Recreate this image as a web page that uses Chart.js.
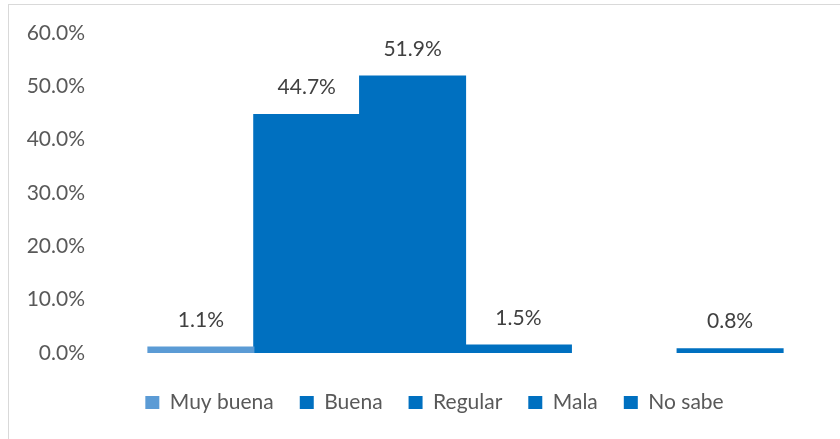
<!DOCTYPE html>
<html lang="es">
  <head>
    <meta charset="UTF-8" />
    <script src="https://cdn.jsdelivr.net/npm/chart.js"></script>
    <title>Opinión</title>
    <style>
      body {
        margin: 0;
        background: #fff;
        overflow: hidden;
      }
      #frame {
        position: absolute;
        left: 8px;
        top: 4px;
        width: 900px;
        height: 500px;
        border: 1px solid #d9d9d9;
      }
      #chart {
        position: absolute;
        left: 0;
        top: 0;
      }
    </style>
  </head>
  <body>
    <div id="frame">
      <canvas id="chart" width="850" height="434"></canvas>
    </div>
    <script>
      // one empty slot sits between Mala and No sabe in the original
      const seriesNames = ['Muy buena', 'Buena', 'Regular', 'Mala', '', 'No sabe'];
      const seriesValues = [0.011, 0.447, 0.519, 0.015, null, 0.008];
      const seriesColors = ['#5b9bd5', '#0070c0', '#0070c0', '#0070c0', '#0070c0', '#0070c0'];
      const yTicks = [0, 0.1, 0.2, 0.3, 0.4, 0.5, 0.6];

      const font = "Lato, 'Open Sans', sans-serif";

      const datasets = seriesNames.map((name, i) => ({
        label: name,
        data: [seriesValues[i]],
        backgroundColor: seriesColors[i],
        borderWidth: 0,
        inflateAmount: 0.6, // hides the hairline seams between touching bars
        barPercentage: 1,
        categoryPercentage: 0.857
      }));

      // value labels above each bar
      const valueLabels = {
        id: 'valueLabels',
        afterDatasetsDraw(chart) {
          const ctx = chart.ctx;
          ctx.save();
          ctx.font = '21px ' + font;
          ctx.fillStyle = '#404040';
          ctx.textAlign = 'center';
          ctx.textBaseline = 'middle';
          chart.data.datasets.forEach((ds, i) => {
            const v = ds.data[0];
            if (v == null) return;
            const bar = chart.getDatasetMeta(i).data[0];
            ctx.fillText((v * 100).toFixed(1) + '%', bar.x, bar.y - 27);
          });
          ctx.restore();
        }
      };

      // the legend sits centred on the whole frame, a bit right of the plot
      const legendShift = {
        id: 'legendShift',
        afterLayout(chart) {
          chart.legend.left += 12;
          chart.legend.right += 12;
        }
      };

      new Chart(document.getElementById('chart'), {
        type: 'bar',
        data: { labels: [''], datasets: datasets },
        plugins: [valueLabels, legendShift],
        options: {
          responsive: false,
          animation: false,
          layout: { padding: { top: 28, right: 23, left: 0, bottom: 16 } },
          scales: {
            x: {
              grid: { display: false },
              border: { display: false },
              ticks: { display: false },
              afterFit(scale) {
                scale.height = 13;
              }
            },
            y: {
              min: 0,
              max: 0.6,
              afterBuildTicks(scale) {
                scale.ticks = yTicks.map(v => ({ value: v }));
              },
              afterFit(scale) {
                scale.width = 86;
              },
              grid: { display: false, drawTicks: false },
              border: { display: false },
              ticks: {
                padding: 10,
                color: '#595959',
                font: { family: font, size: 21 },
                callback: v => (v * 100).toFixed(1) + '%'
              }
            }
          },
          plugins: {
            tooltip: { enabled: false },
            legend: {
              position: 'bottom',
              labels: {
                boxWidth: 14,
                boxHeight: 13,
                padding: 26,
                color: '#595959',
                font: { family: font, size: 21 },
                filter: item => item.text !== ''
              }
            }
          }
        }
      });
    </script>
  </body>
</html>
